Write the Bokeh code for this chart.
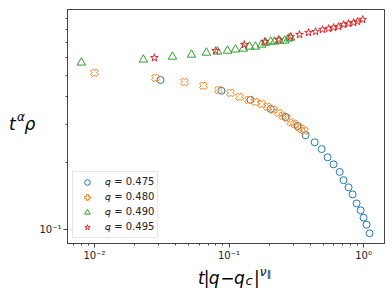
from bokeh.plotting import figure
from bokeh.models import Range1d, FixedTicker, Legend, LegendItem, CustomJSTickFormatter
from bokeh.layouts import row, column
from bokeh.core.properties import value
from bokeh.embed import file_html
from bokeh.resources import INLINE

# q = 0.475
x475 = [0.0310, 0.0879, 0.1445, 0.204, 0.263, 0.323, 0.371, 0.433, 0.488, 0.540,
        0.598, 0.664, 0.710, 0.773, 0.828, 0.887, 0.951, 1.0, 1.052, 1.108]
y475 = [0.475, 0.424, 0.386, 0.351, 0.323, 0.294, 0.267, 0.248, 0.231, 0.212,
        0.197, 0.182, 0.167, 0.155, 0.144, 0.131, 0.122, 0.113, 0.105, 0.096]
# q = 0.480
x480 = [0.0100, 0.0284, 0.0467, 0.0645, 0.0836, 0.1026, 0.1197, 0.1396, 0.157, 0.175,
        0.193, 0.214, 0.233, 0.250, 0.268, 0.287, 0.307, 0.329, 0.346, 0.364]
y480 = [0.512, 0.485, 0.465, 0.447, 0.428, 0.415, 0.398, 0.386, 0.378, 0.370,
        0.359, 0.348, 0.337, 0.327, 0.320, 0.306, 0.300, 0.291, 0.285, 0.279]
# q = 0.490
x490 = [0.0080, 0.0231, 0.0380, 0.0526, 0.068, 0.0821, 0.0975, 0.1117, 0.128, 0.142,
        0.157, 0.175, 0.187, 0.204, 0.218, 0.237, 0.259, 0.277, 0.287]
y490 = [0.569, 0.587, 0.605, 0.618, 0.631, 0.638, 0.644, 0.652, 0.658, 0.672,
        0.672, 0.686, 0.700, 0.708, 0.708, 0.715, 0.715, 0.731, 0.738]
# q = 0.495
x495 = [0.0279, 0.0795, 0.130, 0.184, 0.233, 0.287, 0.334, 0.390, 0.440, 0.495,
        0.549, 0.598, 0.652, 0.710, 0.773, 0.843, 0.901, 0.984]
y495 = [0.598, 0.644, 0.686, 0.708, 0.723, 0.746, 0.762, 0.778, 0.786, 0.803,
        0.811, 0.820, 0.828, 0.845, 0.855, 0.863, 0.873, 0.891]

labels = ["𝑞 = 0.475", "𝑞 = 0.480", "𝑞 = 0.490", "𝑞 = 0.495"]
colors = ["#1f77b4", "#ff7f0e", "#2ca02c", "#d62728"]

FONT = "DejaVu Sans"
AXC = "#444444"
W, H = 392, 294
YLW = 36          # width of the strip holding the y title
XLH = 31          # height of the strip holding the x title
FL, FR, FT, FB = 66, 383, 9, 243  # frame edges (page px)

p = figure(width=W - YLW, height=H - XLH, frame_width=FR - FL, frame_height=FB - FT,
           x_axis_type="log", y_axis_type="log",
           x_range=Range1d(0.00631, 1.43), y_range=Range1d(0.0863, 0.99),
           output_backend="svg", toolbar_location=None,
           min_border_left=FL - YLW, min_border_right=W - FR, min_border_top=FT,
           min_border_bottom=H - XLH - FB)
p.xgrid.visible = False
p.ygrid.visible = False
p.outline_line_color = AXC
p.outline_line_width = 1
p.background_fill_color = "white"
p.border_fill_color = "white"

fmt = CustomJSTickFormatter(code="""
const e = Math.round(Math.log10(tick));
const sup = {"-": "\u207b", "0": "\u2070", "1": "\u00b9", "2": "\u00b2", "3": "\u00b3"};
return "10" + String(e).split("").map(c => sup[c]).join("");
""")

xminor = [m * 10.0 ** k for k in (-3, -2, -1, 0) for m in range(2, 10)]
yminor = [m * 0.1 for m in range(2, 10)]
p.xaxis.ticker = FixedTicker(ticks=[0.01, 0.1, 1.0], minor_ticks=xminor)
p.yaxis.ticker = FixedTicker(ticks=[0.1], minor_ticks=yminor)
for ax in (p.xaxis[0], p.yaxis[0]):
    ax.formatter = fmt
    ax.axis_line_color = AXC
    ax.major_tick_line_color = AXC
    ax.minor_tick_line_color = AXC
    ax.major_tick_in = 0
    ax.major_tick_out = 4
    ax.minor_tick_in = 0
    ax.minor_tick_out = 2
    ax.major_label_text_font = FONT
    ax.major_label_text_font_size = "10px"
    ax.major_label_text_color = "#222222"
    ax.major_label_standoff = 2

r1 = p.scatter(x475, y475, marker="circle", size=7, line_color=colors[0], fill_color=None, line_width=1)
r2 = p.scatter(x480, y480, marker="plus", size=8, angle=0.785398, line_color=colors[1], fill_color=None, line_width=1)
r3 = p.scatter(x490, y490, marker="triangle", size=8.5, line_color=colors[2], fill_color=None, line_width=1)
r4 = p.scatter(x495, y495, marker="star", size=8, line_color=colors[3], fill_color=None, line_width=1)

legend = Legend(items=[LegendItem(label=labels[i], renderers=[r]) for i, r in enumerate([r1, r2, r3, r4])],
                location="bottom_left", margin=5, padding=3, spacing=1,
                glyph_width=22, glyph_height=14, label_height=14, label_standoff=7,
                label_text_font=FONT, label_text_font_size="10px", label_text_color="#222222",
                border_line_color="#cccccc", border_line_width=1,
                background_fill_color="white", background_fill_alpha=0.8)
p.add_layout(legend)


def strip(w, h, x0, y0):
    s = figure(width=w, height=h, x_range=Range1d(x0, x0 + w), y_range=Range1d(y0 + h, y0),
               output_backend="svg", toolbar_location=None,
               x_axis_location=None, y_axis_location=None,
               min_border=0, min_border_left=0, min_border_right=0,
               min_border_top=0, min_border_bottom=0)
    s.grid.visible = False
    s.outline_line_color = None
    s.background_fill_color = "white"
    s.border_fill_color = "white"
    return s


def put(s, xs, ys, texts, size, style):
    s.text(x=xs, y=ys, text=texts, text_font=value(FONT), text_font_size=f"{size}px",
           text_font_style=style, text_color="black", text_align="left",
           text_baseline="alphabetic")


# y title strip: t^alpha rho
ys_ = strip(YLW, H, 0, 0)
put(ys_, [8.5, 24], [123, 123], ["t", "ρ"], 17, "italic")
put(ys_, [16.5], [116.5], ["α"], 12, "italic")

# x title strip: t|q - q_c|^{nu_par}
xs_ = strip(W - YLW, XLH, YLW, H - XLH)
put(xs_, [183, 195, 223.5], [277, 277, 277], ["t", "q", "q"], 17, "italic")
put(xs_, [189.5, 208, 246], [277, 277, 277], ["|", "\u2212", "|"], 17, "normal")
put(xs_, [236.5], [280], ["c"], 13, "italic")
put(xs_, [252.5], [271], ["ν"], 12, "italic")
put(xs_, [260.5], [273], ["\u2225"], 9, "normal")

layout = row(ys_, column(p, xs_))
open("out.html", "w").write(file_html(layout, INLINE))
